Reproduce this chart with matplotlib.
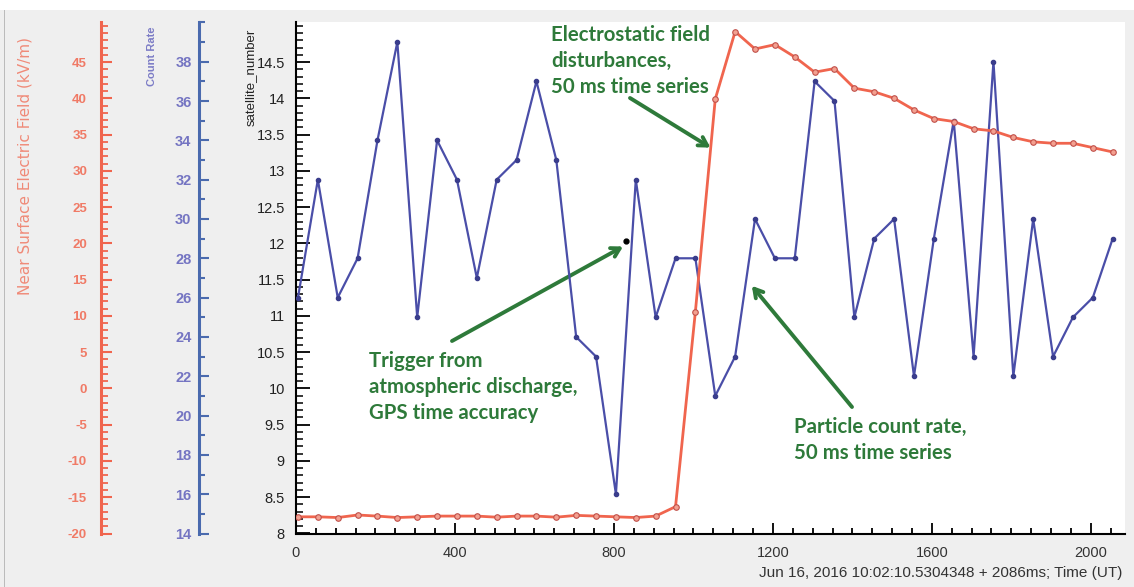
import matplotlib
matplotlib.use("Agg")
import matplotlib.pyplot as plt
from matplotlib.ticker import MultipleLocator, FuncFormatter, FixedLocator
from matplotlib.patches import Rectangle

plt.rcParams["font.family"] = ["Liberation Sans", "DejaVu Sans"]
plt.rcParams["axes.unicode_minus"] = False

# 50 ms samples (ms after Jun 16, 2016 10:02:10.5304348)
time_ms = [5, 55, 105, 155, 205, 255, 305, 355, 405, 455,
           505, 555, 605, 655, 705, 755, 805, 855, 905, 955,
           1005, 1055, 1105, 1155, 1205, 1255, 1305, 1355, 1405, 1455,
           1505, 1555, 1605, 1655, 1705, 1755, 1805, 1855, 1905, 1955,
           2005, 2055]

count_rate = [26, 32, 26, 28, 34, 39, 25, 34, 32, 27,
              32, 33, 37, 33, 24, 23, 16, 32, 25, 28,
              28, 21, 23, 30, 28, 28, 37, 36, 25, 29,
              30, 22, 29, 35, 23, 38, 22, 30, 23, 25,
              26, 29]

e_field = [-17.7, -17.7, -17.8, -17.45, -17.6, -17.8, -17.7, -17.6, -17.6, -17.6,
           -17.75, -17.6, -17.6, -17.75, -17.5, -17.6, -17.7, -17.8, -17.6, -16.3,
           10.6, 39.9, 49.2, 46.8, 47.4, 45.7, 43.6, 44.1, 41.4, 40.9,
           40.0, 38.4, 37.2, 36.8, 35.8, 35.5, 34.6, 34.0, 33.8, 33.8,
           33.2, 32.6]

trigger_t = 831
trigger_count = 28.9

sat_ticks = [8, 8.5, 9, 9.5, 10, 10.5, 11, 11.5, 12, 12.5, 13, 13.5, 14, 14.5]
count_ticks = [14, 16, 18, 20, 22, 24, 26, 28, 30, 32, 34, 36, 38]
field_ticks = [-20, -15, -10, -5, 0, 5, 10, 15, 20, 25, 30, 35, 40, 45]

W, H = 1134, 587
GREEN = "#2e7a3a"
RED = "#f0654e"
BLUE = "#4a4ea8"


def fx(px):
    return px / W


def fy(py):
    return 1 - py / H


fig = plt.figure(figsize=(W / 100, H / 100), dpi=100, facecolor="#efefef")
fig.add_artist(Rectangle((0, fy(10)), 1, 1 - fy(10), transform=fig.transFigure,
                         facecolor="white", edgecolor="none"))
fig.add_artist(Rectangle((fx(4), 0), 0.0012, fy(10), transform=fig.transFigure,
                         facecolor="#bbbbbb", edgecolor="none"))

ax = fig.add_axes([fx(296), fy(533.5), fx(1125) - fx(296), fy(22) - fy(533.5)])
ax.set_facecolor("white")
ax.set_xlim(0, 2086)
ax.set_ylim(8, 15.055)
for s in ["top", "right"]:
    ax.spines[s].set_visible(False)
ax.spines["left"].set_linewidth(1.5)
ax.spines["bottom"].set_linewidth(1.5)
ax.yaxis.set_major_locator(FixedLocator(sat_ticks))
ax.yaxis.set_minor_locator(MultipleLocator(0.1))
ax.yaxis.set_major_formatter(FuncFormatter(lambda v, p: f"{v:g}"))
ax.xaxis.set_major_locator(MultipleLocator(400))
ax.xaxis.set_minor_locator(MultipleLocator(50))
ax.tick_params(axis="y", which="major", direction="in", length=10, width=1.3,
               pad=8, labelsize=10.5, labelcolor="#222222")
ax.tick_params(axis="y", which="minor", direction="in", length=5, width=1.1,
               left=True)
ax.tick_params(axis="x", which="major", direction="in", length=8, width=1.3,
               pad=9, labelsize=10.5, labelcolor="#333333")
ax.tick_params(axis="x", which="minor", direction="in", length=4, width=1.3,
               bottom=True)

# count rate axis
ax_c = ax.twinx()
ax_c.set_ylim(14, 40.02)
for s in ["top", "right", "bottom"]:
    ax_c.spines[s].set_visible(False)
ax_c.spines["left"].set_visible(True)
ax_c.spines["left"].set_position(("axes", (198.5 - 296) / 829))
ax_c.spines["left"].set_color("#4a6aae")
ax_c.spines["left"].set_linewidth(2.2)
ax_c.yaxis.tick_left()
ax_c.yaxis.set_major_locator(FixedLocator(count_ticks))
ax_c.yaxis.set_minor_locator(FixedLocator(list(range(15, 41, 2)) + [40]))
ax_c.tick_params(axis="y", which="major", direction="in", length=7, width=1.5,
                 color="#4a6aae", pad=5, labelsize=10.5, labelcolor="#7474c2",
                 left=True)
ax_c.tick_params(axis="y", which="minor", direction="in", length=4, width=1.5,
                 color="#4a6aae", left=True)

# electric field axis
ax_f = ax.twinx()
ax_f.set_ylim(-20, 50.52)
for s in ["top", "right", "bottom"]:
    ax_f.spines[s].set_visible(False)
ax_f.spines["left"].set_visible(True)
ax_f.spines["left"].set_position(("axes", (101 - 296) / 829))
ax_f.spines["left"].set_color(RED)
ax_f.spines["left"].set_linewidth(2.2)
ax_f.yaxis.tick_left()
ax_f.yaxis.set_major_locator(FixedLocator(field_ticks))
ax_f.yaxis.set_minor_locator(MultipleLocator(1))
ax_f.tick_params(axis="y", which="major", direction="in", length=8, width=1.5,
                 color=RED, pad=10, labelsize=9.5, labelcolor="#f07a66", left=True)
ax_f.tick_params(axis="y", which="minor", direction="in", length=5, width=1.3,
                 color=RED, left=True)

# series
ax_f.plot(time_ms, e_field, color=RED, lw=2, marker="o", ms=4,
          mfc="#f3a090", mec="#c0504a", mew=0.8, zorder=3)
ax_c.plot(time_ms, count_rate, color=BLUE, lw=1.6, marker="o", ms=3,
          mfc="#3a3d8c", mec="#3a3d8c", zorder=4)
ax_c.plot([trigger_t], [trigger_count], "o", color="black", ms=3.5, zorder=5)

# axis labels
fig.text(fx(251), fy(29), "satellite_number", rotation=90, ha="center", va="top",
         fontsize=9.5, color="#222222")
fig.text(fx(152), fy(27), "Count Rate", rotation=90, ha="center", va="top",
         fontsize=8, fontweight="bold", color="#7c7cc6")
fig.text(fx(25), fy(37), "Near Surface Electric Field (kV/m)", rotation=90,
         ha="center", va="top", fontsize=11, family="DejaVu Sans", color="#f08a78")
fig.text(fx(1122), fy(573), "Jun 16, 2016 10:02:10.5304348 + 2086ms; Time (UT)",
         ha="right", va="center", fontsize=11, color="#333333")

# annotations
txt = dict(color=GREEN, fontsize=14.7, fontweight="bold", family="Lato",
           linespacing=1.37, ha="left", va="top")
fig.text(fx(551), fy(25), "Electrostatic field\ndisturbances,\n50 ms time series", **txt)
fig.text(fx(369), fy(351), "Trigger from\natmospheric discharge,\nGPS time accuracy", **txt)
fig.text(fx(794), fy(417), "Particle count rate,\n50 ms time series", **txt)

arrow = dict(arrowstyle="->,head_length=0.6,head_width=0.35", color=GREEN, lw=2.8,
             shrinkA=0, shrinkB=0)
ax_f.annotate("", xy=(1043, 33.2), xytext=(fx(630), fy(98)),
              textcoords="figure fraction", arrowprops=arrow)
ax_c.annotate("", xy=(823, 28.6), xytext=(fx(452), fy(341)),
              textcoords="figure fraction", arrowprops=arrow)
ax_c.annotate("", xy=(1147, 26.6), xytext=(fx(852), fy(407)),
              textcoords="figure fraction", arrowprops=arrow)

fig.canvas.draw()
for lab in ax_c.get_yticklabels() + ax_f.get_yticklabels():
    lab.set_fontweight("bold")

fig.savefig("out.png", dpi=100, facecolor=fig.get_facecolor())
